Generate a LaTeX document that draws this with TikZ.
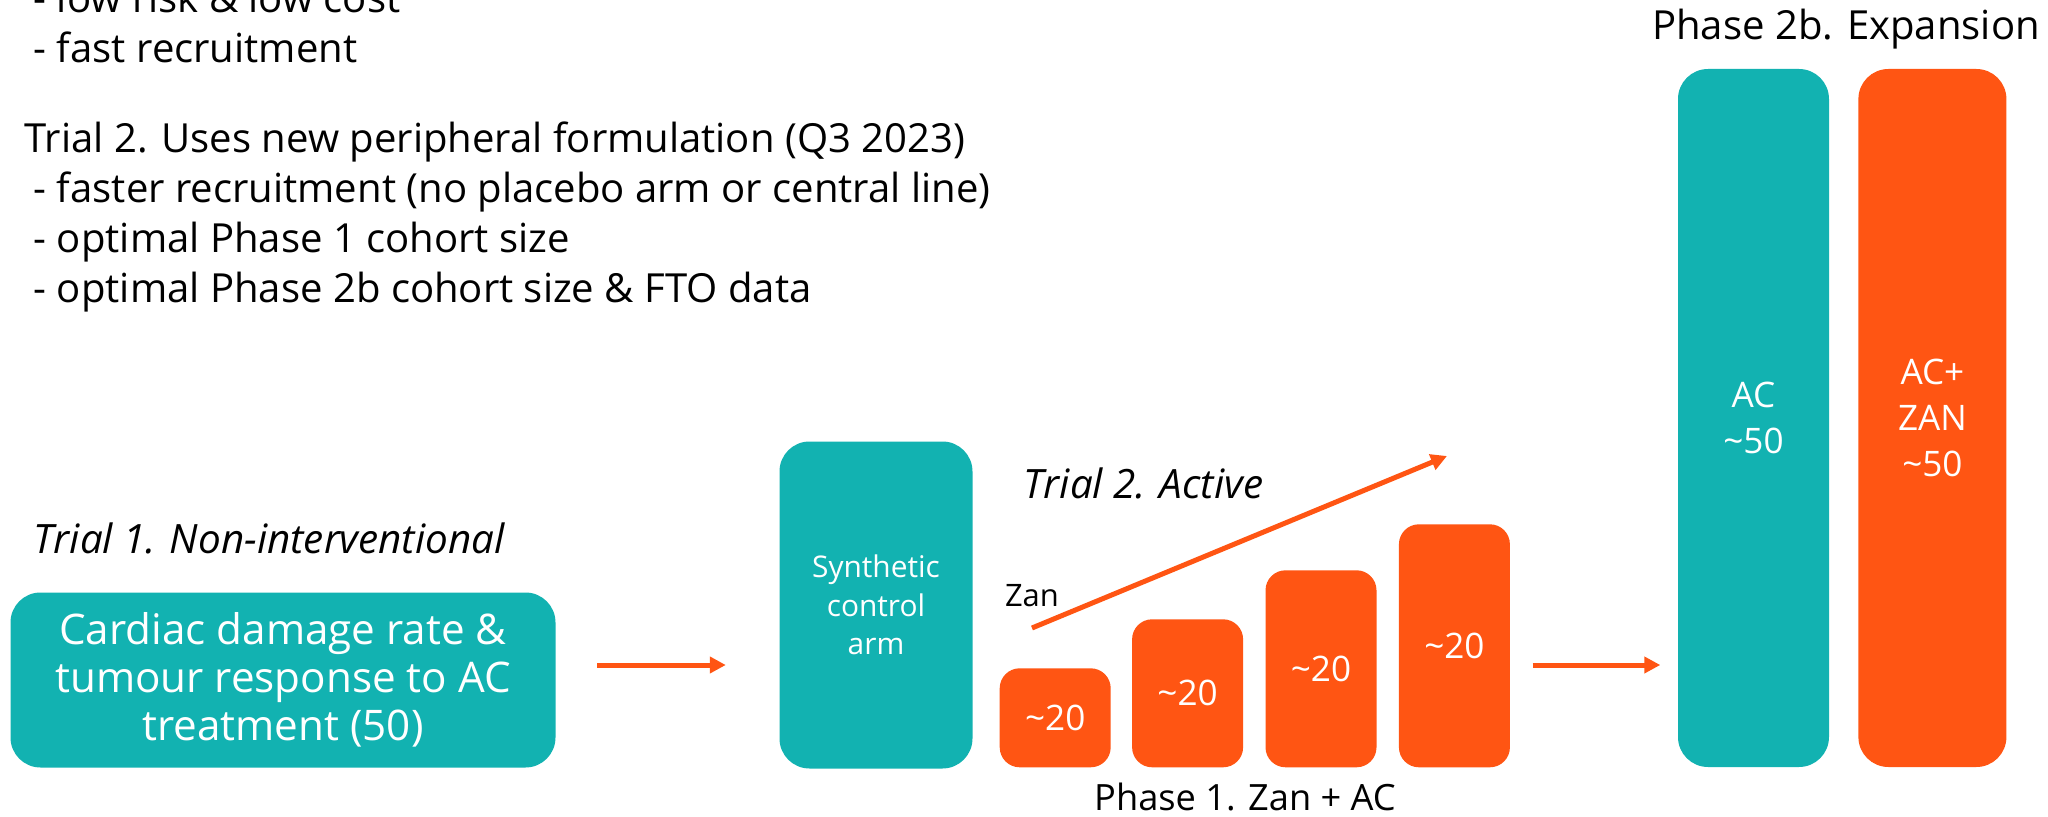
\documentclass[tikz,border=0pt]{standalone}
\usepackage{fontspec}
\setmainfont{Open Sans}
\usetikzlibrary{arrows.meta, positioning, calc}
\definecolor{armteal}{RGB}{18,178,177}
\definecolor{armorange}{RGB}{255,85,19}

\begin{document}
\begin{tikzpicture}[
    >={Triangle[length=0.16cm, width=0.16cm]},
    every node/.style={align=center, inner sep=0pt},
    box/.style={rectangle, fill=armteal, text=white, rounded corners=0.3cm},
    bar/.style={rectangle, fill=armorange, text=white, rounded corners=0.2cm,
                minimum width=1.11cm, font=\fontsize{10}{12}\selectfont},
    tag/.style={font=\fontsize{11.5}{13}\selectfont\itshape},
    arr/.style={->, draw=armorange, line width=0.05cm}
]
\useasboundingbox (0,0) rectangle (20.48,-8.17);

% ----------------------
% Nodes
% ----------------------

% Notes at top left
\node[anchor=north west, align=left, font=\fontsize{11.4}{14.2}\selectfont] (notes) at (0.24,0.19)
    {\hspace*{0.09cm}- low risk \& low cost\\
     \hspace*{0.09cm}- fast recruitment\\[0.41cm]
     Trial 2. Uses new peripheral formulation (Q3 2023)\\
     \hspace*{0.09cm}- faster recruitment (no placebo arm or central line)\\
     \hspace*{0.09cm}- optimal Phase 1 cohort size\\
     \hspace*{0.09cm}- optimal Phase 2b cohort size \& FTO data};

% Trial 1 box
\node[box, minimum width=5.45cm, minimum height=1.75cm,
      font=\fontsize{12}{13.6}\selectfont] (card) at (2.83,-6.80)
    {Cardiac damage rate \&\\ tumour response to AC\\ treatment (50)};
\node[tag, anchor=west] (trialone) at (0.33,-5.38) {Trial 1. Non-interventional};

% Synthetic control arm
\node[box, minimum width=1.93cm, minimum height=3.27cm,
      font=\fontsize{8.5}{11}\selectfont] (synth) at (8.76,-6.05) {Synthetic\\ control\\ arm};

% Phase 1 cohorts
\node[bar, minimum height=0.99cm, anchor=south west] (bar1) at (9.99,-7.68) {\textasciitilde 20};
\node[bar, minimum height=1.48cm, right=0.2cm of bar1.south east, anchor=south west] (bar2) {\textasciitilde 20};
\node[bar, minimum height=1.97cm, right=0.21cm of bar2.south east, anchor=south west] (bar3) {\textasciitilde 20};
\node[bar, minimum height=2.43cm, right=0.21cm of bar3.south east, anchor=south west] (bar4) {\textasciitilde 20};
\node[font=\fontsize{10.3}{12}\selectfont] (phaseone) at (12.45,-7.97) {Phase 1. Zan + AC};

% Dose escalation
\coordinate (zanlow) at (10.32,-6.28);
\coordinate (zanhigh) at (14.47,-4.56);
\node[above=0.2cm of zanlow, font=\fontsize{8.8}{10}\selectfont] (zan) {Zan};
\node[tag, anchor=west] (trialtwo) at (10.23,-4.83) {Trial 2. Active};

% Phase 2b arms
\node[box, minimum width=1.51cm, minimum height=6.98cm,
      font=\fontsize{10}{13}\selectfont] (ac) at (17.535,-4.18) {AC\\ \textasciitilde 50};
\node[box, fill=armorange, minimum width=1.48cm, minimum height=6.98cm,
      font=\fontsize{10}{13}\selectfont, right=0.28cm of ac] (aczan) {AC+\\ ZAN\\ \textasciitilde 50};
\node[font=\fontsize{11.4}{13}\selectfont] (phasetwo) at (18.46,-0.29) {Phase 2b. Expansion};

% ----------------------
% Arrows
% ----------------------

% Trial 1 to synthetic arm
\draw[arr, shorten <=0.41cm, shorten >=0.53cm] (card.east |- 0,-6.65) -- (synth.west |- 0,-6.65);

% Escalating Zan dose
\draw[arr] (zanlow) -- (zanhigh);

% Phase 1 to Phase 2b
\draw[arr, shorten <=0.22cm, shorten >=0.17cm] (bar4.east |- 0,-6.65) -- (ac.west |- 0,-6.65);

\end{tikzpicture}
\end{document}
